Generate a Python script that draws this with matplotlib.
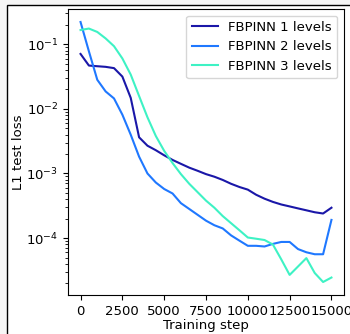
import matplotlib
matplotlib.use("Agg")
import matplotlib.pyplot as plt
from matplotlib.patches import Rectangle

# Training steps (one sample every 500 steps)
steps = list(range(0, 15001, 500))

# L1 test loss, one list per model
loss_1_levels = [0.0708, 0.0468, 0.0457, 0.0447, 0.0427, 0.0316, 0.0148, 0.00363,
                 0.00269, 0.00229, 0.00191, 0.00162, 0.00141, 0.00123, 0.00110,
                 0.000977, 0.000891, 0.000794, 0.000692, 0.000617, 0.000562,
                 0.000468, 0.000407, 0.000363, 0.000331, 0.000309, 0.000288,
                 0.000269, 0.000251, 0.000240, 0.000295]
loss_2_levels = [0.221, 0.0776, 0.0282, 0.0186, 0.0145, 0.00813, 0.00398, 0.00182,
                 0.00100, 0.000724, 0.000575, 0.000490, 0.000347, 0.000282,
                 0.000229, 0.000186, 0.000158, 0.000141, 0.000110, 9.12e-5,
                 7.59e-5, 7.59e-5, 7.41e-5, 8.13e-5, 8.71e-5, 8.71e-5, 6.76e-5,
                 6.03e-5, 5.62e-5, 5.62e-5, 0.000191]
loss_3_levels = [0.166, 0.175, 0.155, 0.123, 0.0933, 0.0603, 0.0339, 0.0158,
                 0.00741, 0.00380, 0.00224, 0.00145, 0.000977, 0.000692,
                 0.000513, 0.000380, 0.000295, 0.000219, 0.000170, 0.000132,
                 0.000102, 9.77e-5, 9.33e-5, 7.94e-5, 4.68e-5, 2.69e-5, 3.63e-5,
                 4.90e-5, 2.88e-5, 2.09e-5, 2.45e-5]

labels = ["FBPINN 1 levels", "FBPINN 2 levels", "FBPINN 3 levels"]
colors = ["#1a17a8", "#1f78ff", "#3ef2c4"]

plt.rcParams["font.size"] = 9.5

fig = plt.figure(figsize=(3.5, 3.34), dpi=100, facecolor="#f6f6f6")

# white panel with a black frame, cut off at the right and bottom edges
frame = Rectangle((7 / 350, -0.1), 1.0, 1 - 5 / 334 + 0.1,
                  transform=fig.transFigure, facecolor="white",
                  edgecolor="black", linewidth=1.0, zorder=-5)
fig.add_artist(frame)

ax = fig.add_axes([68 / 350, 39 / 334, 276 / 350, 286 / 334], zorder=1)
for loss, label, color in zip([loss_1_levels, loss_2_levels, loss_3_levels], labels, colors):
    ax.plot(steps, loss, color=color, label=label, linewidth=1.5)

ax.set_yscale("log")
ax.set_xticks([0, 2500, 5000, 7500, 10000, 12500, 15000])
ax.set_xlabel("Training step", labelpad=1)
ax.set_ylabel("L1 test loss", labelpad=1)
ax.legend(loc="upper right")

fig.savefig("out.png", dpi=100, facecolor=fig.get_facecolor())
